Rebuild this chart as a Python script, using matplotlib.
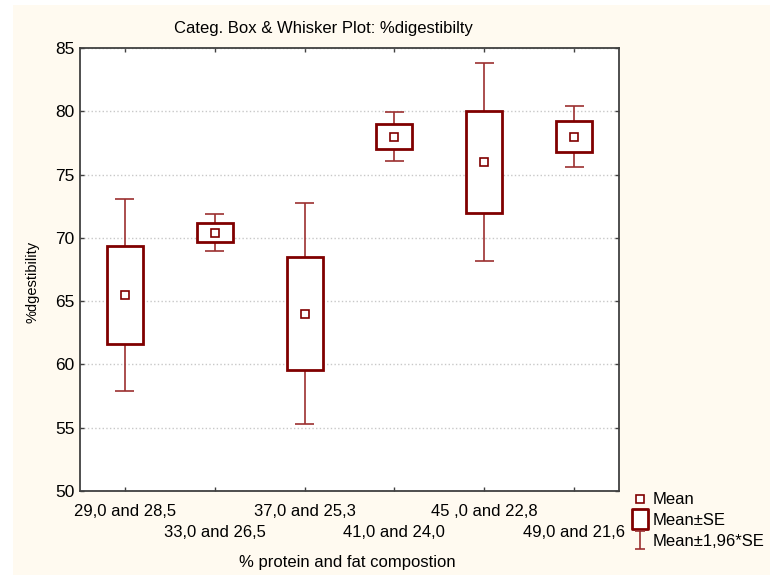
import numpy as np
import matplotlib
matplotlib.use("Agg")
import matplotlib.pyplot as plt
from matplotlib.patches import Rectangle
from matplotlib.lines import Line2D
from matplotlib.path import Path

plt.rcParams['font.family'] = ['Liberation Sans', 'DejaVu Sans']

# data
categories = ['29,0 and 28,5', '33,0 and 26,5', '37,0 and 25,3',
              '41,0 and 24,0', '45 ,0 and 22,8', '49,0 and 21,6']
means = [65.5, 70.4, 64.0, 78.0, 76.0, 78.0]
se = [3.87, 0.75, 4.45, 1.0, 4.0, 1.23]
yticks = [50, 55, 60, 65, 70, 75, 80, 85]

dark = '#800000'
whisk = '#9c3030'
cream = '#fffaf0'

fig = plt.figure(figsize=(7.7, 5.75), dpi=100, facecolor='white')
# cream panel behind everything (thin white border top/left like the original)
fig.patches.append(Rectangle((13 / 770, 0), 1, 1 - 5 / 575, transform=fig.transFigure,
                             facecolor=cream, edgecolor='none', zorder=-10))

ax = fig.add_axes([80 / 770, 84 / 575, 539 / 770, 443 / 575])
ax.set_facecolor('white')

x = np.arange(len(categories))
m = np.array(means)
s = np.array(se)
lo, hi = m - 1.96 * s, m + 1.96 * s

bw = 0.4
cw = 0.21
ax.vlines(x, lo, hi, color=whisk, lw=1.2, zorder=2)
ax.hlines(lo, x - cw / 2, x + cw / 2, color=whisk, lw=1.2, zorder=2)
ax.hlines(hi, x - cw / 2, x + cw / 2, color=whisk, lw=1.2, zorder=2)
for xi, mi, si in zip(x, m, s):
    ax.add_patch(Rectangle((xi - bw / 2, mi - si), bw, 2 * si, facecolor='white',
                           edgecolor=dark, lw=2.0, zorder=3))
ax.plot(x, m, ls='none', marker='s', ms=6, mfc='white', mec=dark, mew=1.2, zorder=4)

ax.set_xlim(-0.5, len(categories) - 0.5)
ax.set_ylim(50, 85)
ax.set_yticks(yticks)
ax.set_xticks(x)
ax.set_xticklabels(categories, fontsize=12)
ax.tick_params(axis='y', labelsize=12.5, pad=4)
ax.tick_params(direction='in', length=3, top=True, right=True, color='#404040', width=1)
# staggered category labels: every second one on a lower row
for i, tick in enumerate(ax.xaxis.get_major_ticks()):
    tick.set_pad(9.5 if i % 2 == 0 else 24.5)
ax.grid(axis='y', color='#c8c8c8', ls=':', lw=1)
ax.set_axisbelow(True)
for sp in ax.spines.values():
    sp.set_color('#404040')
    sp.set_linewidth(1.3)

fig.text(323 / 770, 1 - 28 / 575, 'Categ. Box & Whisker Plot: %digestibilty',
         ha='center', va='center', fontsize=12)
fig.text(347 / 770, 1 - 563 / 575, '% protein and fat compostion',
         ha='center', va='center', fontsize=12)
fig.text(33 / 770, 1 - 282 / 575, '%dgestibility', rotation=90,
         ha='center', va='center', fontsize=10.5)

# legend
whisker_marker = Path([(-0.5, -1), (0.5, -1), (0, -1), (0, 1), (-0.5, 1), (0.5, 1)],
                      [Path.MOVETO, Path.LINETO, Path.MOVETO, Path.LINETO,
                       Path.MOVETO, Path.LINETO])
box_marker = Path([(-0.42, -0.5), (0.42, -0.5), (0.42, 0.5), (-0.42, 0.5), (-0.42, -0.5)],
                  [Path.MOVETO, Path.LINETO, Path.LINETO, Path.LINETO, Path.CLOSEPOLY])
handles = [
    Line2D([], [], ls='none', marker='s', ms=6, mfc='white', mec=dark, mew=1.2),
    Line2D([], [], ls='none', marker=box_marker, ms=14, mfc='white', mec=dark, mew=2.0),
    Line2D([], [], ls='none', marker=whisker_marker, ms=13, mec=whisk, mew=1.2),
]
fig.legend(handles, ['Mean', 'Mean±SE', 'Mean±1,96*SE'], loc='upper left',
           bbox_to_anchor=(623 / 770, 1 - 484 / 575), frameon=False, fontsize=12,
           handlelength=1.0, handletextpad=0.25, labelspacing=0.35, borderpad=0)

fig.savefig('out.png', dpi=100, facecolor=fig.get_facecolor())
